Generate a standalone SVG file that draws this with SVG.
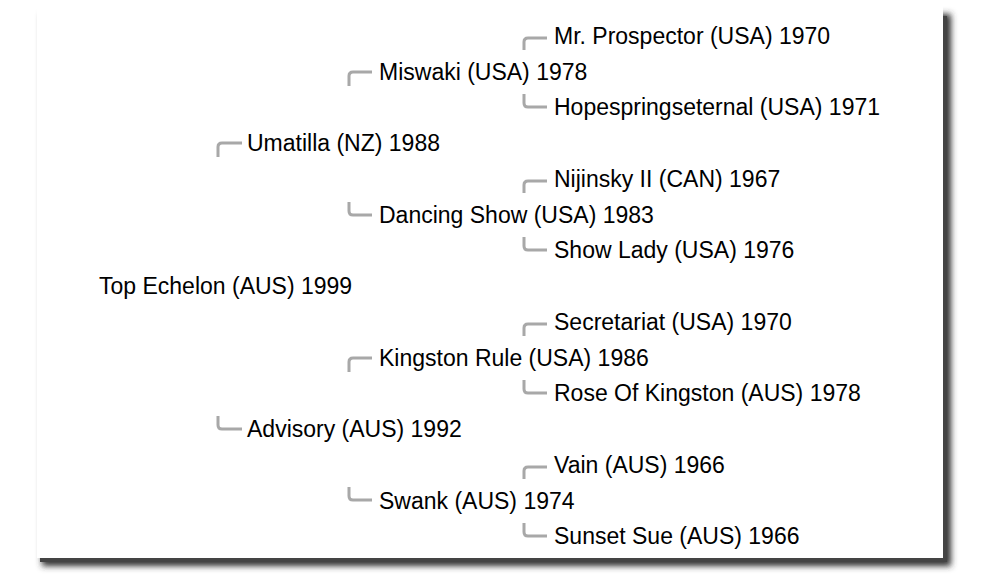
<svg xmlns="http://www.w3.org/2000/svg" width="984" height="577" viewBox="0 0 984 577">
<defs>
<filter id="blur" x="-5%" y="-5%" width="110%" height="110%"><feGaussianBlur stdDeviation="3"/></filter>
<linearGradient id="edge" x1="0" y1="0" x2="0" y2="1"><stop offset="0" stop-color="#fff"/><stop offset="0.08" stop-color="#e4e4e4"/><stop offset="1" stop-color="#e4e4e4"/></linearGradient>
</defs>
<style>
text{font-family:"Liberation Sans",Arial,sans-serif;font-size:23px;fill:#000}
.c{fill:none;stroke:#a8a8a8;stroke-width:3;stroke-linecap:butt;stroke-linejoin:round}
</style>
<rect x="0" y="0" width="984" height="577" fill="#fff"/>
<g id="paper">
<rect x="42" y="14" width="909" height="552" fill="#333" filter="url(#blur)"/>
<rect x="40" y="16" width="907" height="546" fill="#444"/>
<rect x="37" y="-10" width="906" height="568" fill="#fff"/>
<line x1="37.5" y1="0" x2="37.5" y2="558" stroke="url(#edge)" stroke-width="1"/>
</g>
<g id="connectors">
<path class="c" d="M218,157 V147 Q218,143 222,143 H242"/>
<path class="c" d="M218,416 V425 Q218,429 222,429 H242"/>
<path class="c" d="M349,86 V76 Q349,72 353,72 H372"/>
<path class="c" d="M349,202 V211 Q349,215 353,215 H372"/>
<path class="c" d="M349,372 V362 Q349,358 353,358 H372"/>
<path class="c" d="M349,487 V496 Q349,500 353,500 H372"/>
<path class="c" d="M524,50 V42 Q524,38 528,38 H547"/>
<path class="c" d="M524,94 V103 Q524,107 528,107 H547"/>
<path class="c" d="M524,193 V185 Q524,181 528,181 H547"/>
<path class="c" d="M524,237 V246 Q524,250 528,250 H547"/>
<path class="c" d="M524,336 V328 Q524,324 528,324 H547"/>
<path class="c" d="M524,380 V389 Q524,393 528,393 H547"/>
<path class="c" d="M524,479 V471 Q524,467 528,467 H547"/>
<path class="c" d="M524,523 V532 Q524,536 528,536 H547"/>
</g>
<g id="n0"><text x="554" y="44">Mr. Prospector (USA) 1970</text></g>
<g id="n1"><text x="379" y="80">Miswaki (USA) 1978</text></g>
<g id="n2"><text x="554" y="115">Hopespringseternal (USA) 1971</text></g>
<g id="n3"><text x="247" y="151">Umatilla (NZ) 1988</text></g>
<g id="n4"><text x="554" y="187">Nijinsky II (CAN) 1967</text></g>
<g id="n5"><text x="379" y="223">Dancing Show (USA) 1983</text></g>
<g id="n6"><text x="554" y="258">Show Lady (USA) 1976</text></g>
<g id="n7"><text x="99" y="294">Top Echelon (AUS) 1999</text></g>
<g id="n8"><text x="554" y="330">Secretariat (USA) 1970</text></g>
<g id="n9"><text x="379" y="366">Kingston Rule (USA) 1986</text></g>
<g id="n10"><text x="554" y="401">Rose Of Kingston (AUS) 1978</text></g>
<g id="n11"><text x="247" y="437">Advisory (AUS) 1992</text></g>
<g id="n12"><text x="554" y="473">Vain (AUS) 1966</text></g>
<g id="n13"><text x="379" y="509">Swank (AUS) 1974</text></g>
<g id="n14"><text x="554" y="544">Sunset Sue (AUS) 1966</text></g>
</svg>
